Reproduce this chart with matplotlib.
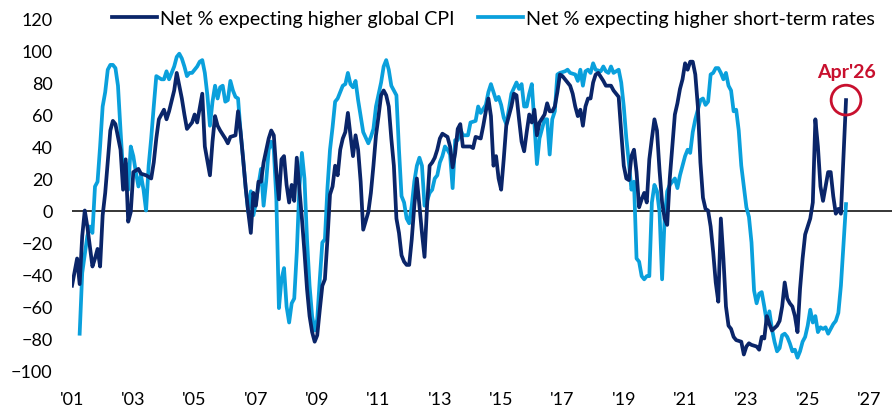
import numpy as np
import matplotlib
matplotlib.use("Agg")
import matplotlib.pyplot as plt

# month offsets from Jan 2001
cpi_months = [0, 2, 3, 4, 5, 6, 8, 9, 10, 11, 12, 13, 15, 16, 17, 19, 20, 21, 22, 23,
              24, 26, 27, 29, 31, 32, 33, 34, 36, 37, 38, 40, 41, 43, 44, 45, 47, 48, 49, 51,
              52, 54, 55, 56, 57, 58, 60, 61, 62, 64, 65, 66, 67, 68, 69, 70, 71, 72, 73, 74,
              75, 77, 78, 79, 80, 81, 82, 83, 84, 85, 86, 87, 88, 89, 90, 91, 92, 93, 94, 95,
              96, 97, 98, 99, 100, 101, 102, 103, 104, 105, 106, 107, 108, 109, 110, 111, 112, 113, 114, 116,
              117, 118, 119, 120, 121, 122, 123, 124, 125, 126, 127, 128, 129, 130, 131, 132, 133, 134, 135, 136,
              137, 138, 139, 140, 141, 142, 143, 144, 145, 147, 148, 149, 150, 151, 152, 153, 155, 156, 157, 158,
              160, 161, 162, 163, 164, 165, 166, 167, 168, 169, 170, 172, 173, 174, 175, 176, 177, 178, 179, 180,
              181, 182, 183, 185, 186, 187, 188, 189, 190, 191, 192, 193, 195, 196, 197, 198, 199, 200, 201, 202,
              203, 204, 205, 206, 208, 209, 211, 212, 213, 214, 215, 216, 217, 218, 219, 220, 221, 222, 223, 224,
              225, 226, 227, 228, 229, 230, 231, 232, 233, 234, 235, 236, 237, 238, 239, 240, 241, 242, 243, 244,
              245, 246, 247, 248, 249, 250, 251, 252, 253, 254, 255, 256, 257, 258, 259, 260, 262, 263, 264, 265,
              266, 268, 269, 270, 271, 272, 273, 274, 276, 277, 278, 279, 280, 281, 282, 283, 284, 285, 286, 287,
              288, 289, 290, 291, 292, 293, 294, 295, 296, 297, 298, 299, 300, 301, 302, 303]
cpi_vals = [-47, -30, -46, -16, 0, -10, -35, -30, -24, -35, -3, 11, 50, 56, 54, 38, 13, 32, -7, -1,
            24, 26, 23, 22, 20, 30, 45, 57, 63, 57, 62, 75, 86, 70, 60, 51, 55, 60, 55, 73,
            40, 22, 43, 59, 53, 50, 45, 42, 46, 47, 62, 49, 32, 14, -1, -14, 11, 3, 18, 18,
            30, 45, 50, 47, 24, 7, 32, 34, 16, 5, 16, 6, 33, 14, -5, -26, -49, -66, -76, -82,
            -78, -62, -47, -43, -18, 10, 15, 28, 22, 38, 45, 49, 61, 47, 34, 47, 38, 18, -12, -1,
            11, 28, 47, 59, 72, 75, 72, 65, 45, 28, -5, -14, -28, -32, -34, -34, -18, 3, 20, 3,
            -14, -29, 3, 28, 30, 33, 38, 45, 48, 46, 40, 27, 36, 51, 54, 40, 40, 40, 39, 46,
            45, 53, 62, 70, 59, 28, 34, 20, 13, 32, 53, 65, 73, 72, 57, 43, 37, 49, 60, 55,
            63, 47, 55, 60, 67, 62, 62, 65, 74, 85, 84, 82, 78, 73, 65, 59, 63, 53, 65, 70,
            70, 80, 85, 86, 81, 78, 78, 75, 73, 71, 49, 28, 20, 19, 34, 38, 24, 2, 7, 11,
            5, 32, 45, 57, 50, 25, 5, -5, -9, 20, 40, 60, 67, 76, 82, 92, 88, 93, 93, 85,
            65, 30, 8, 1, 0, -10, -26, -45, -57, -5, -30, -60, -72, -74, -79, -81, -82, -90, -85, -83,
            -84, -85, -87, -79, -80, -66, -71, -75, -72, -69, -60, -45, -55, -58, -60, -66, -76, -49, -30, -15,
            -10, -5, 5, 57, 40, 15, 6, 15, 24, 24, 9, -2, 1, -2, 33, 69]

rate_months = [3, 4, 6, 7, 8, 9, 10, 11, 12, 13, 14, 15, 16, 17, 18, 19, 20, 21, 22, 23,
               24, 25, 26, 27, 28, 29, 30, 31, 32, 33, 35, 36, 37, 38, 40, 41, 42, 43, 44, 45,
               46, 47, 48, 49, 50, 51, 52, 53, 54, 55, 56, 57, 58, 59, 60, 61, 62, 63, 64, 65,
               66, 67, 68, 69, 70, 71, 72, 73, 74, 75, 76, 77, 78, 79, 80, 81, 82, 83, 84, 85,
               86, 87, 88, 89, 90, 91, 92, 93, 94, 95, 96, 97, 98, 99, 100, 101, 102, 103, 104, 105,
               106, 107, 108, 109, 110, 111, 112, 113, 114, 116, 117, 118, 119, 121, 122, 123, 124, 125, 126, 127,
               128, 129, 130, 131, 132, 133, 134, 135, 136, 137, 138, 139, 140, 141, 142, 143, 144, 145, 146, 147,
               148, 149, 150, 151, 152, 153, 155, 156, 158, 159, 160, 162, 163, 164, 165, 166, 167, 168, 169, 170,
               171, 172, 174, 175, 176, 177, 178, 179, 180, 181, 182, 183, 184, 185, 186, 187, 188, 189, 190, 191,
               193, 194, 195, 197, 198, 199, 200, 201, 202, 203, 204, 205, 207, 208, 209, 210, 211, 212, 213, 214,
               215, 216, 217, 218, 219, 220, 221, 222, 223, 224, 225, 226, 227, 228, 229, 230, 231, 232, 233, 234,
               235, 236, 237, 238, 239, 240, 241, 242, 243, 244, 245, 246, 247, 248, 249, 250, 251, 252, 253, 254,
               255, 256, 257, 258, 259, 260, 261, 262, 263, 264, 265, 266, 267, 268, 269, 270, 271, 272, 273, 274,
               275, 276, 277, 278, 279, 280, 281, 282, 283, 284, 285, 286, 287, 288, 289, 290, 291, 292, 293, 294,
               295, 296, 297, 298, 299, 300, 301, 302, 303]
rate_vals = [-77, -39, -16, -10, -14, 15, 18, 40, 65, 74, 88, 91, 91, 89, 78, 50, 24, 30, 13, 40,
             34, 24, 15, 22, 13, 0, 28, 45, 65, 84, 82, 82, 87, 82, 90, 96, 98, 95, 90, 84,
             86, 86, 88, 90, 93, 94, 86, 72, 53, 68, 78, 70, 77, 78, 68, 69, 81, 75, 71, 70,
             49, 32, 14, -1, 12, -3, 5, 16, 26, 3, 18, 38, 43, 38, 7, -61, -43, -36, -60, -70,
             -58, -55, -26, 14, 36, 20, -18, -47, -66, -75, -68, -43, -20, -18, 14, 38, 52, 68, 70, 74,
             78, 79, 86, 79, 77, 81, 69, 59, 49, 42, 46, 51, 65, 80, 90, 94, 88, 78, 75, 72,
             38, 9, 5, -5, -8, 3, 18, 28, 33, 28, 3, 6, 11, 13, 20, 22, 30, 34, 40, 38,
             35, 14, 44, 44, 51, 47, 47, 55, 56, 65, 61, 66, 74, 79, 74, 69, 71, 66, 58, 54,
             63, 73, 80, 76, 79, 65, 65, 73, 79, 55, 29, 45, 51, 57, 57, 35, 57, 62, 85, 86,
             87, 88, 86, 85, 81, 88, 78, 87, 88, 86, 92, 88, 87, 90, 87, 86, 90, 86, 87, 88,
             80, 65, 45, 30, 13, 18, -30, -32, -41, -43, -41, -41, 5, 16, 12, -1, -43, -5, 12, 16,
             18, 20, 14, 22, 28, 34, 38, 36, 49, 57, 63, 69, 70, 66, 68, 85, 86, 89, 89, 86,
             82, 86, 78, 75, 62, 63, 50, 28, 15, 2, -4, -20, -50, -58, -52, -51, -60, -70, -63, -74,
             -82, -88, -86, -78, -77, -79, -83, -88, -87, -92, -88, -82, -79, -72, -62, -70, -66, -76, -73, -74,
             -73, -77, -74, -71, -69, -64, -47, -22, 4]

year_ticks = list(range(2001, 2028, 2))
year_labels = ["'%02d" % (y % 100) for y in year_ticks]

navy = "#0A2569"
sky = "#0AA0DC"
red = "#C8102E"

plt.rcParams["font.family"] = ["Lato", "DejaVu Sans"]

fig = plt.figure(figsize=(8.92, 4.10), dpi=100)
ax = fig.add_axes([72 / 892, 1 - 371.5 / 410, 1 - 72 / 892, (371.5 - 19.5) / 410])

cpi_x = 2001 + np.array(cpi_months) / 12
rate_x = 2001 + np.array(rate_months) / 12

ax.axhline(0, color="black", lw=1.1, zorder=1)
ax.plot(cpi_x, cpi_vals, color=navy, lw=2.7, label="Net % expecting higher global CPI", zorder=3)
ax.plot(rate_x, rate_vals, color=sky, lw=2.7, label="Net % expecting higher short-term rates", zorder=2)

# highlight latest reading
ax.scatter([cpi_x[-1]], [cpi_vals[-1]], s=460, facecolors="none", edgecolors=red, linewidths=2, zorder=4)
ax.text(cpi_x[-1], 87, "Apr'26", color=red, fontsize=14, fontweight="bold", ha="center", va="center")

ax.set_xlim(2001, 2027.75)
ax.set_ylim(-100, 120)
ax.set_yticks(range(-100, 121, 20))
ax.set_xticks(year_ticks)
ax.set_xticklabels(year_labels)
ax.tick_params(axis="both", length=0, labelsize=13, colors="black")
ax.tick_params(axis="y", pad=14)
ax.tick_params(axis="x", pad=15)
for s in ax.spines.values():
    s.set_visible(False)

fig.legend(loc="center right", bbox_to_anchor=(893 / 892, 1 - 19 / 410), ncol=2, frameon=False,
           fontsize=14.2, handlelength=2.3, columnspacing=1.2, handletextpad=0.15)

fig.savefig("out.png", dpi=100)
